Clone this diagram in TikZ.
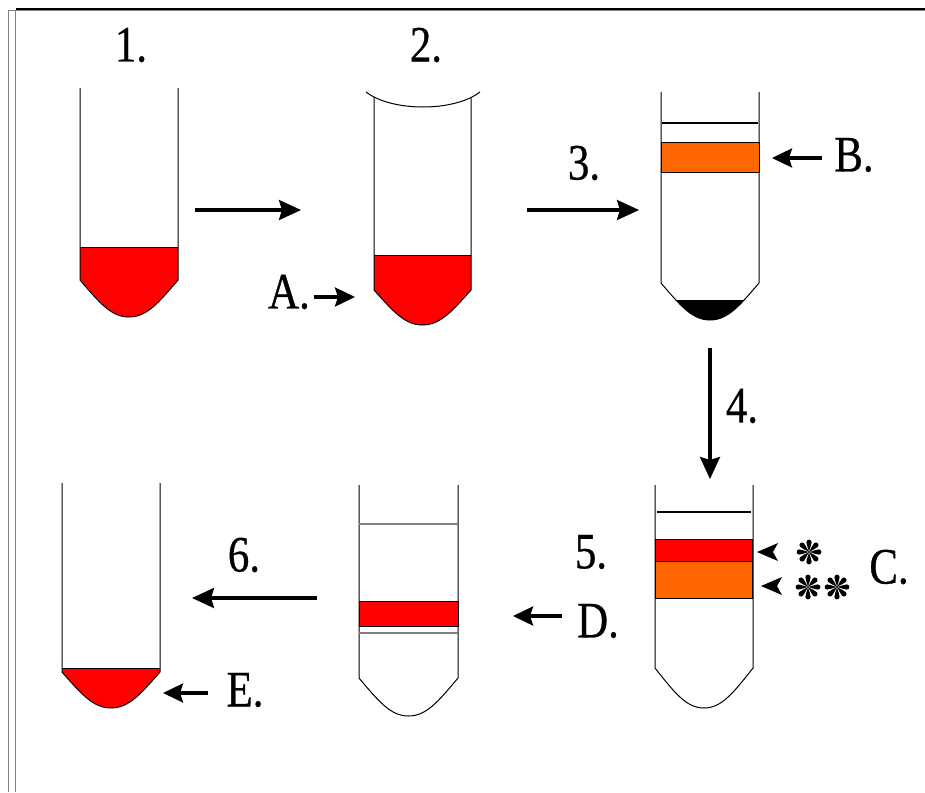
\documentclass[tikz,border=0pt]{standalone}
\usepackage{fontspec}
\setmainfont{Liberation Serif}[FakeStretch=0.84,FakeBold=0.6]
\usetikzlibrary{arrows.meta}

\definecolor{bloodred}{HTML}{FF0000}
\definecolor{bandorange}{HTML}{FF6600}
\definecolor{framegray}{HTML}{808080}

% outline of a round-bottomed tube:
% #1 left x, #2 right x, #3 top y, #4 shoulder y, #5 bottom y
\newcommand\tubeshape[5]{%
  (#1,#3) -- (#1,#4)
  .. controls ({#1+0.2*(#2-#1)},{#4+0.62*(#5-#4)}) and ({#1+0.32*(#2-#1)},#5) .. ({(#1+#2)/2},#5)
  .. controls ({#2-0.32*(#2-#1)},#5) and ({#2-0.2*(#2-#1)},{#4+0.62*(#5-#4)}) .. (#2,#4)
  -- (#2,#3)}

\tikzset{
  wall/.style={draw=black, line width=1pt},
  flow/.style={line width=3.2pt, -{Stealth[length=22pt,width=20pt,inset=3pt]}},
  pointer/.style={line width=3.2pt, -{Stealth[length=20pt,width=19pt,inset=3pt]}},
  label/.style={inner sep=0pt, font=\fontsize{51}{55}\selectfont},
  band/.style={draw=black, line width=0.8pt},
  % eight teardrop spokes
  tearstar/.pic={
    \foreach \a in {0,45,...,315}
      \fill[rotate=\a] (0,0) .. controls (0.8,4) and (2.6,7) .. (2.6,9.8)
        .. controls (2.6,13.2) and (-2.6,13.2) .. (-2.6,9.8)
        .. controls (-2.6,7) and (-0.8,4) .. (0,0);
  },
}

\begin{document}
\begin{tikzpicture}[x=1pt, y=-1pt]
\useasboundingbox (0,0) rectangle (925,792);
\fill[white] (0,0) rectangle (925,792);

% page frame
\draw[framegray, line width=1pt] (8.5,792) -- (8.5,10.5) -- (925,10.5);
\draw[framegray, line width=1pt] (15.5,792) -- (15.5,10.5);
\draw[black, line width=1.6pt] (15.5,9.3) -- (925,9.3);

% ---------- tube 1: whole blood ----------
\begin{scope}
  \clip (0,247) rectangle (925,400);
  \fill[bloodred] \tubeshape{80}{178}{88}{280}{317} -- cycle;
\end{scope}
\draw[wall] (80,247) -- (178,247);
\draw[wall] \tubeshape{80}{178}{88}{280}{317};
\node[label] (n1) at (131,45) {1.};

% ---------- tube 2: sealed tube ----------
\begin{scope}
  \clip (0,255) rectangle (925,400);
  \fill[bloodred] \tubeshape{374}{471}{97}{290}{325} -- cycle;
\end{scope}
\draw[wall] (374,255) -- (471,255);
\draw[wall] \tubeshape{374}{471}{97}{290}{325};
\draw[wall] (366,92) .. controls (392,112) and (454,112) .. (480,92);
\node[label] (n2) at (426,45) {2.};

% ---------- tube 3: after centrifugation ----------
\begin{scope}
  \clip (0,300) rectangle (925,400);
  \fill[black] \tubeshape{661}{759}{92}{283}{320} -- cycle;
\end{scope}
\draw[wall] \tubeshape{661}{759}{92}{283}{320};
\draw[black, line width=2.8pt] (662,123) -- (758,123);
\filldraw[band, fill=bandorange] (661,142) rectangle (759,172);

% ---------- tube 4: separated bands ----------
\draw[wall] \tubeshape{655}{753}{485}{668}{708};
\draw[black, line width=2.8pt] (657,512) -- (751,512);
\filldraw[band, fill=bloodred] (655,539) rectangle (752,561);
\filldraw[band, fill=bandorange] (655,561) rectangle (752,598);

% ---------- tube 5: collected band ----------
\draw[wall] \tubeshape{359}{458}{485}{678}{716};
\draw[framegray, line width=1.2pt] (359,524) -- (458,524);
\draw[framegray, line width=1.2pt] (359,633) -- (458,633);
\filldraw[band, fill=bloodred] (359,601) rectangle (458,626);

% ---------- tube 6: final pellet ----------
\begin{scope}
  \clip (0,668) rectangle (925,792);
  \fill[bloodred] \tubeshape{62}{160}{483}{672}{708} -- cycle;
\end{scope}
\draw[wall] (62,668) -- (160,668);
\draw[wall] \tubeshape{62}{160}{483}{672}{708};

% ---------- step arrows ----------
\coordinate (s1a) at (195,210);  \coordinate (s1b) at (301,210);
\coordinate (s3a) at (527,210);  \coordinate (s3b) at (639,210);
\coordinate (s4a) at (710,348);  \coordinate (s4b) at (710,479);
\coordinate (s6a) at (317,598);  \coordinate (s6b) at (192,598);
\draw[flow] (s1a) -- (s1b);
\draw[flow] (s3a) -- (s3b);
\draw[flow] (s4a) -- (s4b);
\draw[flow] (s6a) -- (s6b);

\node[label] (n3) at (584,163) {3.};
\node[label] (n4) at (742,406) {4.};
\node[label] (n5) at (591,552) {5.};
\node[label] (n6) at (244,555) {6.};

% ---------- lettered pointers ----------
\node[label] (lA) at (289,292) {A.};
\node[label] (lB) at (854,155) {B.};
\node[label] (lC) at (889,567) {C.};
\node[label] (lD) at (598,621) {D.};
\node[label] (lE) at (245,690) {E.};

\coordinate (pA) at (355,297);
\coordinate (pB) at (772,158);
\coordinate (pD) at (513,616);
\coordinate (pE) at (163,693);
\draw[pointer] (314,297) -- (pA);
\draw[pointer] (822,158) -- (pB);
\draw[pointer] (562,616) -- (pD);
\draw[pointer] (208,693) -- (pE);

% small markers beside the two bands
\fill (757,552) -- (778,543) -- (773,552) -- (778,561) -- cycle;
\fill (761,586) -- (782,577) -- (777,586) -- (782,595) -- cycle;
\pic (st1) at (809,552) {tearstar};
\pic (st2a) at (808,587) {tearstar};
\pic (st2b) at (837,587) {tearstar};
\end{tikzpicture}
\end{document}
